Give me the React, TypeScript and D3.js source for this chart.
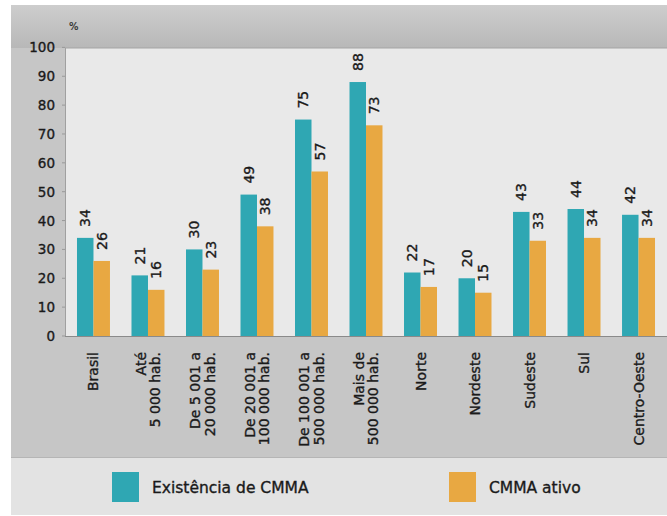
import React from 'react';
import { scaleBand, scaleLinear, range } from 'd3';

const categories: string[][] = [
  ['Brasil'],
  ['Até', '5 000 hab.'],
  ['De 5 001 a', '20 000 hab.'],
  ['De 20 001 a', '100 000 hab.'],
  ['De 100 001 a', '500 000 hab.'],
  ['Mais de', '500 000 hab.'],
  ['Norte'],
  ['Nordeste'],
  ['Sudeste'],
  ['Sul'],
  ['Centro-Oeste'],
];

const existencia = [34, 21, 30, 49, 75, 88, 22, 20, 43, 44, 42];
const ativo = [26, 16, 23, 38, 57, 73, 17, 15, 33, 34, 34];
const yTicks = range(0, 101, 10);

const seriesNames = ['Existência de CMMA', 'CMMA ativo'];
const colors = ['#2fa7b3', '#e8a842'];

const W = 667;
const H = 516;
const plot = { left: 65, right: 667, top: 48, bottom: 336 };
const font = 'DejaVu Sans, sans-serif';
// slight stroke to get the heavy, blurry look of the original labels
const heavy = { stroke: '#1a1a1a', strokeWidth: 0.35 };

export default function App() {
  const x = scaleBand<number>()
    .domain(categories.map((_, i) => i))
    .range([plot.left, plot.right])
    .paddingInner(0.395)
    .paddingOuter(0.22);
  const inner = scaleBand<number>().domain([0, 1]).range([0, x.bandwidth()]);
  const y = scaleLinear().domain([0, 100]).range([plot.bottom, 47.4]);

  const series = [existencia, ativo];

  return (
    <svg width={W} height={H} style={{ position: 'absolute', left: 0, top: 0 }} fontFamily={font}>
      <defs>
        <linearGradient id="topband" x1="0" y1="0" x2="0" y2="1">
          <stop offset="0" stopColor="#cdcdcd" />
          <stop offset="1" stopColor="#b8b8b8" />
        </linearGradient>
      </defs>
      <rect x={0} y={0} width={W} height={H} fill="#fff" />
      {/* frame */}
      <rect x={11} y={5} width={W - 11} height={452} fill="#c6c6c6" />
      <rect x={11} y={5} width={W - 11} height={plot.top - 5} fill="url(#topband)" />
      <rect x={11} y={457} width={W - 11} height={58} fill="#e3e3e3" />
      <line x1={11} x2={W} y1={457.5} y2={457.5} stroke="#b5b5b5" />
      {/* plot area */}
      <rect x={plot.left} y={plot.top} width={plot.right - plot.left} height={plot.bottom - plot.top} fill="#e9e9e9" />
      <line x1={plot.left} x2={plot.right} y1={plot.top} y2={plot.top} stroke="#a5a5a5" />
      <line x1={plot.left + 0.5} x2={plot.left + 0.5} y1={plot.top} y2={plot.bottom} stroke="#a0a0a0" />

      <text x={69} y={30} fontSize={10} fill="#333" {...heavy} strokeWidth={0.2}>%</text>

      {yTicks.map(t => (
        <g key={t}>
          <text x={55} y={y(t)} textAnchor="end" dominantBaseline="central" fontSize={13.5} fill="#1a1a1a" {...heavy}>{t}</text>
          <line x1={plot.left - 3} x2={plot.left} y1={y(t)} y2={y(t)} stroke="#999" />
        </g>
      ))}

      {series.map((vals, s) =>
        vals.map((v, i) => {
          const bx = (x(i) ?? 0) + (inner(s) ?? 0);
          const cx = bx + inner.bandwidth() / 2;
          return (
            <g key={`${s}-${i}`}>
              <rect x={bx} y={y(v)} width={inner.bandwidth()} height={plot.bottom - y(v)} fill={colors[s]} />
              <text
                transform={`translate(${cx},${y(v) - 11}) rotate(-90)`}
                dominantBaseline="central"
                fontSize={14}
                fill="#1a1a1a"
                {...heavy}
              >
                {v}
              </text>
            </g>
          );
        })
      )}

      <line x1={plot.left} x2={plot.right} y1={plot.bottom + 0.5} y2={plot.bottom + 0.5} stroke="#8a8a8a" />

      {categories.map((lines, i) => {
        const cx = (x(i) ?? 0) + x.bandwidth() / 2;
        return lines.map((ln, k) => {
          const off = (k - (lines.length - 1) / 2) * 14.5;
          return (
            <text
              key={`${i}-${k}`}
              transform={`translate(${cx + off},352) rotate(-90)`}
              textAnchor="end"
              dominantBaseline="central"
              fontSize={14}
              fill="#1a1a1a"
              {...heavy}
            >
              {ln}
            </text>
          );
        });
      })}

      {/* legend */}
      {seriesNames.map((name, s) => {
        const lx = s === 0 ? 112 : 449;
        return (
          <g key={name}>
            <rect x={lx} y={472} width={27} height={30} fill={colors[s]} />
            <text x={lx + 40} y={488} dominantBaseline="central" fontSize={15.5} fill="#1a1a1a" {...heavy}>{name}</text>
          </g>
        );
      })}
    </svg>
  );
}
